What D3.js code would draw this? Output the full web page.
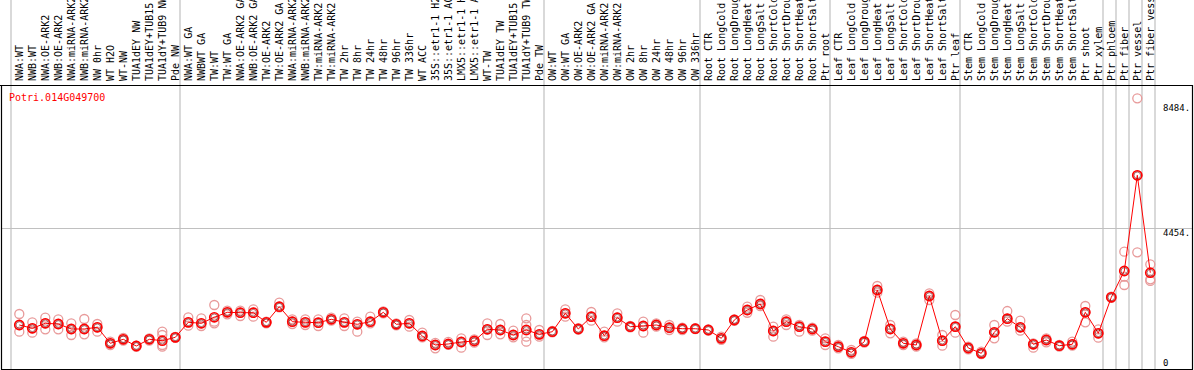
<!DOCTYPE html>
<html><head><meta charset="utf-8">
<script src="https://cdn.jsdelivr.net/npm/d3@7"></script>
<style>body{margin:0;background:#fff}svg{display:block}</style>
</head><body><svg id="c" width="1194" height="370"></svg>
<script>
const geneId = "Potri.014G049700";
const categories = ["NWA:WT","NWB:WT","NWA:OE-ARK2","NWB:OE-ARK2","NWA:miRNA-ARK2","NWB:miRNA-ARK2","NW 0hr","WT H2O","WT-NW","TUA1dEY NW","TUA1dEY+TUB15 NW","TUA1dY+TUB9 NW","Pde NW",
"NWA:WT GA","NWBWT GA","TW:WT","TW:WT GA","NWA:OE-ARK2 GA","NWB:OE-ARK2 GA","TW:OE-ARK2","TW:OE-ARK2 GA","NWA:miRNA-ARK2","NWB:miRNA-ARK2","TW:miRNA-ARK2","TW:miRNA-ARK2","TW 2hr","TW 8hr","TW 24hr","TW 48hr","TW 96hr","TW 336hr","WT ACC","35S::etr1-1 H2O","35S::etr1-1 ACC","LMX5::etr1-1 H2O","LMX5::etr1-1 ACC","WT-TW","TUA1dEY TW","TUA1dEY+TUB15 TW","TUA1dY+TUB9 TW","Pde TW",
"OW:WT","OW:WT GA","OW:OE-ARK2","OW:OE-ARK2 GA","OW:miRNA-ARK2","OW:miRNA-ARK2","OW 2hr","OW 8hr","OW 24hr","OW 48hr","OW 96hr","OW 336hr",
"Root CTR","Root LongCold","Root LongDrought","Root LongHeat","Root LongSalt","Root ShortCold","Root ShortDrought","Root ShortHeat","Root ShortSalt","Ptr root",
"Leaf CTR","Leaf LongCold","Leaf LongDrought","Leaf LongHeat","Leaf LongSalt","Leaf ShortCold","Leaf ShortDrought","Leaf ShortHeat","Leaf ShortSalt","Ptr leaf",
"Stem CTR","Stem LongCold","Stem LongDrought","Stem LongHeat","Stem LongSalt","Stem ShortCold","Stem ShortDrought","Stem ShortHeat","Stem ShortSalt","Ptr shoot","Ptr xylem",
"Ptr phloem","Ptr fiber","Ptr vessel","Ptr fiber vessel"];
const meanValues = [1141,1028,1199,1175,1004,1004,1062,514,651,421,651,603,719,
1233,1199,1405,1576,1562,1562,1233,1768,1254,1233,1220,1336,1233,1165,1254,1576,1165,1199,764,456,490,558,593,994,970,798,970,822,
911,1542,1004,1425,774,1391,1083,1107,1141,1048,1014,1014,
970,685,1312,1655,1860,935,1254,1083,1004,569,
398,206,569,2340,1004,514,456,2134,603,1083,
353,171,891,1357,1062,480,627,432,480,1576,857,
2090,2991,6270,2933];
const replicateValues = [[1518,1141,911],[1233,1028,877],[1391,1199,994],[1336,1175,994],[1199,1004,798],[1346,1004,822],[1175,1062,911],[569,514,456],[695,651,610],[432,421,390],[685,651,603],[911,798,456,398],[730,719,705],
[1405,1233,1117],[1370,1199,1107],[1826,1254,1199],[1631,1576,1507],[1631,1562,1449],[1679,1562,1425],[1254,1233,1199],[1905,1768,1745],[1336,1254,1175],[1336,1233,1141],[1336,1220,1107],[1391,1336,1290],[1370,1233,1107],[1254,1165,911],[1425,1254,1199],[1610,1576,1540],[1199,1165,1130],[1312,1199,1083],[877,764,719],[530,456,343],[560,490,460],[685,558,363],[650,593,535],[1199,994,798],[1175,970,822],[946,798,719],[1370,1141,742,569],[970,822,742],
[935,911,890],[1679,1542,1425],[1030,1004,980],[1586,1425,1288],[911,774,719],[1542,1391,1254],[1107,1083,1060],[1254,1107,877],[1199,1141,1083],[1141,1048,970],[1048,1014,970],[1030,1014,1000],
[994,970,946],[742,685,630],[1336,1312,1280],[1768,1655,1560],[1997,1860,1790],[1083,935,742],[1336,1254,1141],[1141,1083,911],[1048,1004,946],[685,569,456],
[456,398,343],[285,206,150],[593,569,535],[2477,2340,2248],[1141,1004,857],[570,514,456],[510,456,400],[2227,2134,1997],[798,603,432],[1483,1083,877],
[400,353,310],[230,171,140],[1141,891,685],[1620,1357,1254],[1288,1062,946],[514,480,365],[685,627,546],[456,432,400],[569,480,432],[1792,1576,1233],[994,857,706],
[2110,2090,2070],[3652,2796,2511],[8908,6270,3632],[3220,2706,2650]];
const groupStartIndex = [0,13,41,53,63,73,84,85,86,87,88];
const tickValues = [0,4454,8484];
const tickLabels = ["0","4454.","8484."];
const yMax = 8908;

const W = 1194, H = 370;
const svg = d3.select("#c");
const headerY = 85, bottomY = 369;
const x = d3.scaleBand().domain(d3.range(categories.length)).range([11, 1155]).paddingInner(0).paddingOuter(0);
const cx = i => x(i) + 8.3;
const y = d3.scaleLinear().domain([0, yMax]).range([358.3, 98.3]);

// separators
const sepX = d => (d < categories.length ? x(d) : x(d-1) + x.bandwidth());
svg.append("g").selectAll("line").data(groupStartIndex).join("line")
  .attr("x1", sepX).attr("x2", sepX)
  .attr("y1", 0).attr("y2", bottomY)
  .attr("stroke", "#c0c0c0").attr("stroke-width", 1.2);

// mid gridline
svg.append("line").attr("x1", 1).attr("x2", 1192).attr("y1", Math.round(y(4454)) + 0.5).attr("y2", Math.round(y(4454)) + 0.5)
  .attr("stroke", "#c0c0c0").attr("stroke-width", 1.2);

// frame
svg.append("line").attr("x1", 0).attr("x2", 1193).attr("y1", headerY + 0.5).attr("y2", headerY + 0.5).attr("stroke", "#000").attr("stroke-width", 1.2);
svg.append("line").attr("x1", 1.5).attr("x2", 1.5).attr("y1", headerY).attr("y2", bottomY + 0.5).attr("stroke", "#000").attr("stroke-width", 1.2);
svg.append("line").attr("x1", 1192.5).attr("x2", 1192.5).attr("y1", headerY).attr("y2", bottomY + 0.5).attr("stroke", "#000").attr("stroke-width", 1.2);
svg.append("line").attr("x1", 1).attr("x2", 1193).attr("y1", bottomY + 0.5).attr("y2", bottomY + 0.5).attr("stroke", "#000").attr("stroke-width", 1.2);

// category labels
svg.append("g").selectAll("text").data(categories).join("text")
  .attr("transform", (d, i) => `translate(${cx(i) + 3.6},81) rotate(-90)`)
  .attr("font-family", "DejaVu Sans Mono, monospace").attr("font-size", 10)
  .attr("fill", "#000").text(d => d);

// gene id
svg.append("text").attr("x", 9).attr("y", 101).attr("font-family", "DejaVu Sans Mono, monospace")
  .attr("font-size", 10).attr("fill", "#ff0000").text(geneId);

// y tick labels
svg.append("g").selectAll("text").data(tickValues).join("text")
  .attr("x", 1163)
  .attr("y", (d, i) => d === d3.max(tickValues) ? y(d) : y(d) + 7.5)
  .attr("font-family", "DejaVu Sans Mono, monospace").attr("font-size", 9).attr("fill", "#000")
  .text((d, i) => tickLabels[i]);

// replicates
const reps = [];
replicateValues.forEach((arr, i) => arr.forEach(v => reps.push({i, v})));
svg.append("g").selectAll("circle").data(reps).join("circle")
  .attr("cx", d => cx(d.i)).attr("cy", d => y(d.v)).attr("r", 4.5)
  .attr("fill", "none").attr("stroke", "#e89a9a").attr("stroke-width", 1.3);

// mean line
svg.append("path").datum(meanValues)
  .attr("d", d3.line().x((d, i) => cx(i)).y(d => y(d)))
  .attr("fill", "none").attr("stroke", "#ff0000").attr("stroke-width", 1);

// mean markers
const mg = svg.append("g").selectAll("g").data(meanValues).join("g")
  .attr("transform", (d, i) => `translate(${cx(i)},${y(d)})`);
mg.append("circle").attr("r", 4.6).attr("fill", "none").attr("stroke", "#ff0000").attr("stroke-width", 1.6);
mg.append("circle").attr("r", 3.3).attr("fill", "none").attr("stroke", "#600000").attr("stroke-width", 0.8).attr("opacity", 0.7);
</script></body></html>
